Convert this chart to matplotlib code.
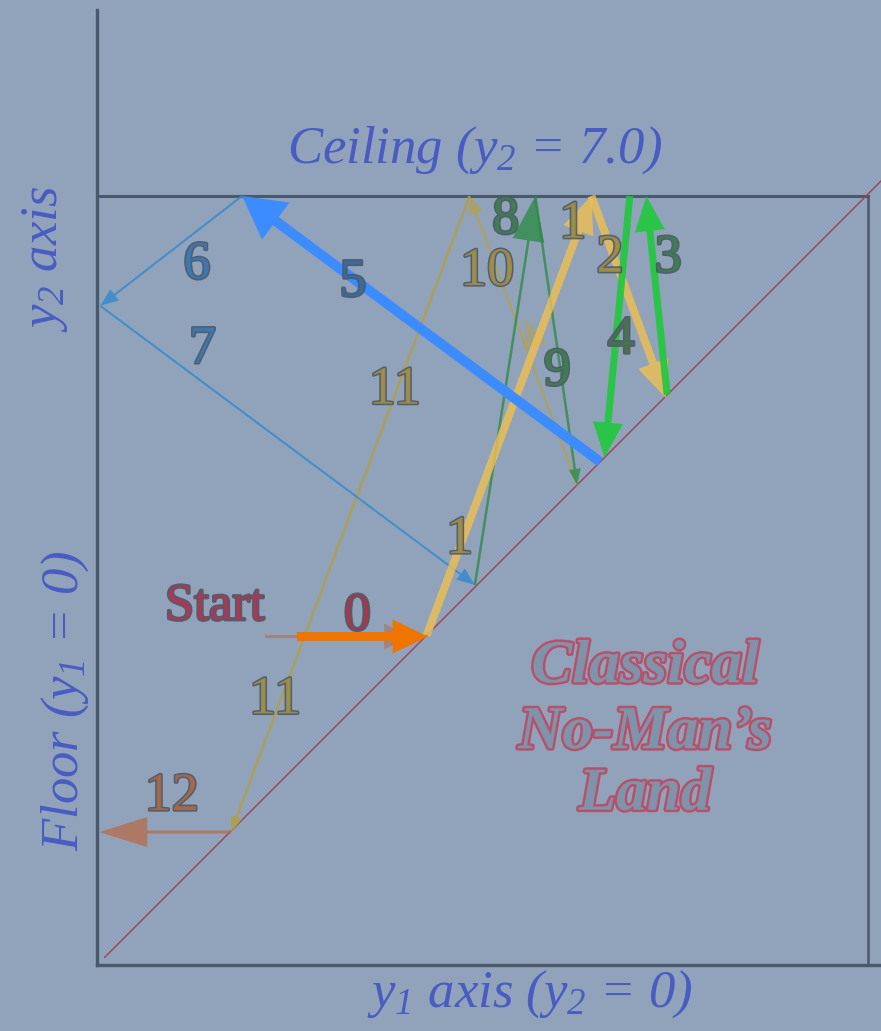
import matplotlib
matplotlib.use("Agg")
import matplotlib.pyplot as plt
import matplotlib.patheffects as pe

plt.rcParams['font.family'] = ['Liberation Serif', 'DejaVu Serif']
plt.rcParams['mathtext.fontset'] = 'custom'
plt.rcParams['mathtext.it'] = 'Liberation Serif:italic'
plt.rcParams['mathtext.rm'] = 'Liberation Serif:italic'

CEIL = 7.0

# trajectory segments, start (a) and end (b) in (y1, y2)
seg_name = ['start', '0', '1', '2', '3', '4', '5', '6', '7', '8', '9', '10', '11', '12']
seg_y1a = [1.53, 1.82, 3.00, 4.50, 5.19, 4.85, 4.58, 1.32, 0.03, 3.44, 3.99, 4.37, 3.39, 1.22]
seg_y2a = [2.99, 2.99, 3.00, 7.00, 5.19, 7.00, 4.58, 7.00, 6.00, 3.46, 7.00, 4.37, 7.00, 1.21]
seg_y1b = [2.85, 3.01, 4.50, 5.18, 5.00, 4.62, 1.32, 0.03, 3.44, 3.99, 4.37, 3.39, 1.22, 0.02]
seg_y2b = [2.99, 2.99, 7.00, 5.16, 7.00, 4.62, 7.00, 6.00, 3.46, 7.00, 4.37, 7.00, 1.21, 1.21]

# segment labels
lab_text = ['Start', '0', '1', '1', '2', '3', '4', '5', '6', '7', '8', '9', '10', '11', '11', '12']
lab_y1 = [1.07, 2.37, 3.30, 4.33, 4.67, 5.20, 4.77, 2.33, 0.91, 0.96, 3.72, 4.19, 3.55, 2.71, 1.62, 0.68]
lab_y2 = [3.26, 3.17, 3.87, 6.74, 6.43, 6.43, 5.69, 6.21, 6.37, 5.60, 6.78, 5.40, 6.31, 5.23, 2.41, 1.53]

# pixel scale of the original slide
S = (965 - 196) / CEIL
X0, Y0 = 97, 965
W, H = 881, 1031

BG = '#90a3ba'
LINE = '#4b5a6b'
AXTXT = '#4a5bc2'

# style per segment: color, alpha, shaft px, head width px, head length px, z
style = {
    'start': ('#b86a48', 0.55, 3, 26, 26, 3),
    '0':     ('#f07400', 1.0, 9, 34, 35, 9),
    '1':     ('#f0c050', 0.8, 8, 32, 37, 5),
    '2':     ('#f0c050', 0.8, 8, 32, 37, 5),
    '3':     ('#1ec83c', 0.9, 7, 30, 35, 6),
    '4':     ('#1ec83c', 0.9, 7, 30, 35, 6),
    '5':     ('#3d8cff', 1.0, 10, 46, 42, 8),
    '6':     ('#3a8ccc', 0.9, 2, 14, 18, 4),
    '7':     ('#3a8ccc', 0.9, 2, 14, 18, 4),
    '8':     ('#2f8a48', 0.8, 2.5, 32, 45, 4),
    '9':     ('#2f8a48', 0.8, 2.5, 12, 16, 4),
    '10':    ('#b8a040', 0.7, 2.2, 14, 18, 3),
    '11':    ('#b0a048', 0.85, 2.5, 12, 16, 3),
    '12':    ('#b86a48', 0.75, 3, 30, 48, 4),
}
lab_color = {
    'Start': '#a83a55', '0': '#a03a50', '1': '#a09048', '2': '#a09048',
    '10': '#a09048', '11': '#a09048', '3': '#3e8050', '4': '#4a7252',
    '8': '#3e8050', '9': '#3e8050', '5': '#3a6d9c', '6': '#3c7ab4',
    '7': '#3c7ab4', '12': '#a86a4a',
}

fig = plt.figure(figsize=(W / 100, H / 100), dpi=100)
fig.patch.set_facecolor(BG)
ax = fig.add_axes([0, 0, 1, 1])
ax.set_facecolor(BG)
ax.set_xlim(-X0 / S, (W - X0) / S)
ax.set_ylim((Y0 - H) / S, Y0 / S)
ax.axis('off')

# axes and box
y1_top = (W - X0 - 13) / S
ax.plot([0, 0], [0, (Y0 - 10) / S], color=LINE, lw=2.4, zorder=2)
ax.plot([0, (W - X0) / S], [0, 0], color=LINE, lw=2.4, zorder=2)
ax.plot([0, y1_top], [CEIL, CEIL], color=LINE, lw=2.2, zorder=2)
ax.plot([y1_top, y1_top], [0, CEIL], color=LINE, lw=1.8, zorder=2)
# diagonal y2 = y1
ax.plot([0.07, 7.2], [0.07, 7.2], color='#a0405e', lw=1.0, zorder=2)

for i, name in enumerate(seg_name):
    c, a, w, hw, hl, z = style[name]
    xa, ya = seg_y1a[i], seg_y2a[i]
    dx, dy = seg_y1b[i] - xa, seg_y2b[i] - ya
    ax.arrow(xa, ya, dx, dy, width=w / S, head_width=hw / S, head_length=hl / S,
             length_includes_head=True, color=c, alpha=a, lw=0, zorder=z)

# faint mid arrowhead on segment 10
ax.arrow(3.95, 5.75, -0.05, 0.14, width=0.0, head_width=24 / S, head_length=30 / S,
         length_includes_head=True, color='#b8a040', alpha=0.45, lw=0, zorder=3)

outline = [pe.withStroke(linewidth=2.2, foreground='#4d5666')]
for t, x, y in zip(lab_text, lab_y1, lab_y2):
    fs = 38 if t == 'Start' else 39
    ax.text(x, y, t, fontsize=fs, color=lab_color[t], alpha=0.9, ha='center',
            va='center', path_effects=outline, zorder=10)

# axis captions
ax.text(3.44, 7.42, 'Ceiling ($y_2$ = 7.0)', fontsize=38, style='italic',
        color=AXTXT, ha='center', va='center')
ax.text(3.94, -0.27, '$y_1$ axis ($y_2$ = 0)', fontsize=38, style='italic',
        color=AXTXT, ha='center', va='center')
ax.text(-0.29, 2.41, 'Floor ($y_1$ = 0)', fontsize=38, style='italic',
        color=AXTXT, ha='center', va='center', rotation=90)
ax.text(-0.47, 6.43, '$y_2$ axis', fontsize=38, style='italic',
        color=AXTXT, ha='center', va='center', rotation=90)

nml = [pe.withStroke(linewidth=3.5, foreground='#b8506a')]
for txt, y in zip(['Classical', 'No-Man\u2019s', 'Land'], [2.71, 2.11, 1.55]):
    ax.text(4.99, y, txt, fontsize=44, style='italic', weight='bold',
            color='#7f93ab', ha='center', va='center', path_effects=nml, zorder=10)

fig.savefig('out.png', dpi=100, facecolor=BG)
